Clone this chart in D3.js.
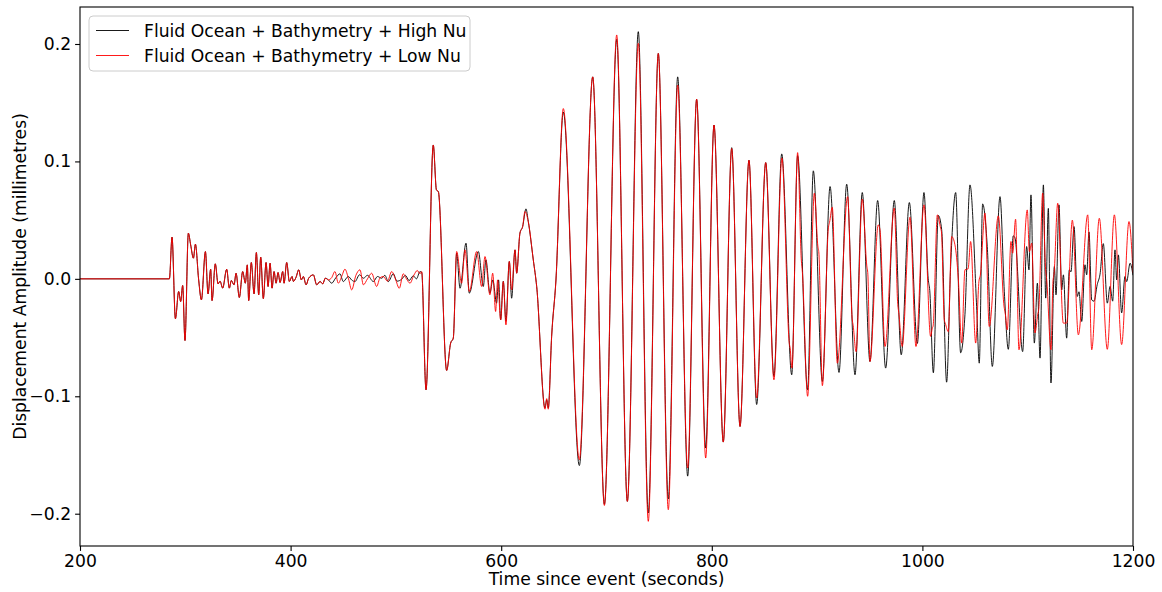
<!DOCTYPE html>
<html>
<head>
<meta charset="utf-8">
<script src="https://cdn.jsdelivr.net/npm/d3@7"></script>
<style>
  body { margin: 0; background: #fff; }
  svg { display: block; font-family: "DejaVu Sans", sans-serif; }
</style>
</head>
<body>
<div id="chart"></div>
<script>
// [time (s), displacement (mm)]
// both runs share the same onset until ~437 s
const onset = [
  [200, 0], [284.9, 0], [287.4, 0.0355], [290.6, -0.034], [293.7, -0.0108], [295.6, -0.0193],
  [297.5, -0.0057], [299.7, -0.0525], [302.9, 0.0389], [305.1, 0.0289], [307.7, 0.0176],
  [309.6, 0.0295], [312.7, -0.0009], [315.3, -0.0179], [319.1, 0.0232], [321.6, -0.0128],
  [324.1, 0.0082], [325.4, -0.0185], [328.5, 0.0128], [331.1, -0.0043], [333, -0.002],
  [335.5, -0.0079], [339.3, 0.0082], [341.8, -0.0079], [343.7, -0.0014], [346.3, -0.0051],
  [348.2, 0.0048], [351.3, -0.0159], [354.5, 0.0062], [357, -0.0037], [358.9, 0.0119],
  [360.2, -0.0185], [362.7, 0.0139], [365.3, -0.0128], [367.5, 0.0224], [369.7, -0.0136],
  [371.6, 0.0185], [374.1, -0.0168], [376.7, 0.0139], [378.6, -0.0065], [380.5, 0.0133],
  [382.4, -0.0079], [384.3, 0.0062], [386.2, -0.0037], [388.1, 0.0054], [390, -0.0031],
  [392.5, 0.0062], [393.8, -0.0037], [396.3, 0.0139], [398.8, -0.0022], [401.4, 0.002],
  [402.6, -0.0022], [405.2, 0.0014], [407.7, 0.0077], [410.2, -0.0009], [412.1, 0.002],
  [414.7, -0.0051], [417.2, 0.0006], [421.6, 0.0034], [424.8, -0.0051], [428, -0.0022],
  [430.5, -0.0043], [433, 0.0006], [435.9, -0.0009]
];

const highNuTail = [
  [439, -0.0037], [443, 0.001], [446.9, 0.0043], [450, -0.0023], [454.8, 0.002], [458, -0.001],
  [461.1, -0.0023], [465.5, 0.0035], [469.1, 0.0005], [473, 0.003], [478.6, -0.0023],
  [482.5, 0.002], [486.5, 0.0005], [489.5, 0.003], [492.8, -0.0023], [497.5, 0.0043],
  [501, -0.002], [505.5, -0.0003], [509, 0.003], [512.5, -0.0015], [516.5, 0.0026],
  [519.5, 0], [522.9, 0.0062], [524.5, 0.0055],
  [528.6, -0.0945], [535.5, 0.114], [538.5, 0.0757], [540.3, 0.0743], [548.2, -0.078],
  [552, -0.0547], [554.5, -0.0505],
  [557.7, 0.0219], [560.9, -0.008], [566.6, 0.0304], [569.7, -0.0122], [578.3, 0.0233],
  [583, -0.0065], [585.5, 0.0162], [589.3, -0.0122], [592, -0.0009], [595.6, -0.0207],
  [597.5, -0.0009], [599.5, -0.0349], [602, -0.002], [604.5, -0.036], [607.7, 0.0148],
  [609.9, -0.0165], [613.1, 0.0247], [614.7, 0.0048], [617.8, 0.0389], [620.4, 0.0446],
  [623.5, 0.0596], [625.7, 0.049], [630.5, 0.016], [633.7, -0.0065], [641.6, -0.110],
  [643.2, -0.103], [644.7, -0.110], [647.9, -0.049], [652, -0.001], [659, 0.142],
  [674.2, -0.159], [686.9, 0.172], [698, -0.192], [709.7, 0.204], [719.8, -0.1895],
  [730.2, 0.2105], [739.7, -0.1994], [749.2, 0.192], [758.7, -0.1875], [767.6, 0.172],
  [777.1, -0.168], [785.6, 0.153], [794.2, -0.144], [802.1, 0.131], [810.9, -0.139],
  [818.9, 0.1117], [826.8, -0.1257], [835.3, 0.101], [842.6, -0.107], [851.2, 0.099],
  [859, -0.083], [866.4, 0.1064], [875.9, -0.0817], [881.5, 0.105], [891, -0.0945],
  [896.4, 0.092], [905, -0.0874], [912.3, 0.0786], [920.8, -0.0797], [928.1, 0.0806],
  [936, -0.0817], [942.9, 0.0735], [950.2, -0.0704], [957.5, 0.0667], [965.1, -0.076],
  [973.3, 0.0667], [979.9, -0.0647], [987.6, 0.065], [995.2, -0.055], [1001.5, 0.0735],
  [1005.5, 0], [1007, -0.01], [1010.4, -0.080], [1015.1, 0.054], [1018.3, 0.042],
  [1023, -0.088], [1026.8, 0.0105], [1031.6, 0.0735], [1036.3, -0.063], [1040.4, -0.0306],
  [1045.2, 0.080], [1051.5, -0.0236], [1054, -0.0718], [1057.2, 0.0638], [1061.6, 0.0275],
  [1066.4, -0.0746], [1073.7, 0.070], [1077.8, -0.011], [1081.6, -0.060], [1086.3, 0.0366],
  [1087.9, 0.035], [1095.2, -0.062], [1099, 0.0275], [1101.2, 0.0077], [1103.1, 0.0715],
  [1106.3, -0.0547], [1109.2, -0.0037], [1111.7, -0.0675], [1114.9, 0.080], [1117.1, -0.0164],
  [1119.6, 0.060], [1122.1, -0.0887], [1125.3, 0.0105], [1126.9, -0.0136], [1129.7, 0.063],
  [1132.3, -0.0094], [1133.9, 0.0034], [1137, -0.0505], [1139.5, 0.0077], [1141.1, 0.006],
  [1144, 0.0445], [1147.1, -0.015], [1148.7, -0.011], [1151.3, -0.0363], [1154.4, 0.012],
  [1156, 0.0034], [1158.2, 0.040], [1160.8, -0.018], [1163, -0.019], [1166, -0.005],
  [1168.7, 0.004], [1171.8, 0.030], [1175.6, -0.0207], [1178.2, -0.0065], [1180.7, -0.019],
  [1182.9, 0.0247], [1184.5, -0.0009], [1186.1, 0.0204], [1189.2, -0.029], [1192.4, 0.002],
  [1194, -0.0023], [1197.2, 0.0133], [1200, 0.003]
];

const lowNuTail = [
  [439, 0.001], [442.1, 0.0062], [445.3, -0.0037], [448.5, 0.002], [451.6, 0.0082], [455, 0],
  [458, -0.0094], [462, 0.003], [465.9, 0.0077], [469.1, -0.0051], [473, 0], [477, 0.0048],
  [481.7, -0.0065], [485, 0.001], [488.1, 0.002], [492, -0.002], [496, 0.0062], [499.5, 0],
  [503.2, -0.008], [507, 0.0043], [510, 0], [513.4, -0.0037], [517, 0.003], [520.3, 0.0071],
  [522.9, 0.0043], [524.5, 0.0062],
  [528.6, -0.0945], [535.5, 0.114], [538.5, 0.0757], [540.3, 0.0743], [548.2, -0.078],
  [552, -0.0547], [554.5, -0.0505],
  [557.7, 0.0233], [562.4, -0.0037], [565.6, 0.0247], [569.7, -0.0108], [576.7, 0.0233],
  [581.4, -0.0065], [584.6, 0.019], [589.3, -0.0136], [591.9, 0.0048], [594.7, -0.0278],
  [596.6, -0.0009], [599.5, -0.0349], [602, -0.0023], [604.5, -0.0392], [607.7, 0.0148],
  [609.9, -0.0094], [613.1, 0.0247], [614.7, 0.0048], [617.8, 0.0389], [620.4, 0.0446],
  [622.6, 0.0573], [625.7, 0.0488], [630.5, 0.016], [633.7, -0.0065], [641.6, -0.111],
  [643.2, -0.102], [644.7, -0.111], [647.9, -0.049], [652, -0.001], [659, 0.145],
  [674.2, -0.154], [686.9, 0.172], [698, -0.193], [709.7, 0.2077], [719.8, -0.1895],
  [730.2, 0.2006], [739.7, -0.2065], [749.2, 0.192], [758.7, -0.1966], [767.6, 0.165],
  [777.1, -0.161], [785.6, 0.153], [794.2, -0.1526], [802.1, 0.131], [810.9, -0.139],
  [818.9, 0.111], [826.8, -0.1257], [835.3, 0.101], [842.6, -0.1015], [851.2, 0.099],
  [859, -0.086], [866.6, 0.103], [873.6, -0.055], [874.4, -0.059], [876.1, -0.076],
  [881.5, 0.1075], [885, 0.016], [886, 0.006], [891, -0.100], [897.4, 0.073],
  [900.7, 0.028], [901.7, 0.022], [905, -0.091], [910.8, 0.044], [911.8, 0.048],
  [914.4, 0.061], [919.2, -0.0718], [929, 0.070], [933.3, -0.034], [934.3, -0.040],
  [937, -0.062], [942.9, 0.068], [947.2, 0.011], [948.2, 0.004], [950.2, -0.0704],
  [958.1, 0.046], [959.7, 0.042], [964.5, -0.0576], [973.3, 0.0603], [976.6, -0.022],
  [977.6, -0.029], [980.8, -0.0576], [988.2, 0.0525], [993.9, -0.0576], [1001.5, 0.063],
  [1007.8, -0.049], [1009.4, -0.042], [1010.2, -0.040], [1014.2, 0.0545], [1017.3, 0.043],
  [1018.1, 0.040], [1020.8, -0.035], [1021.8, -0.038], [1024.6, -0.045], [1027.8, 0.036],
  [1030.9, 0.029], [1034.1, 0], [1037.3, -0.0547], [1040.4, 0.0077], [1043.4, 0.0085],
  [1045.8, 0.0318], [1050.6, -0.0547], [1053.7, -0.002], [1055, 0.003], [1059.4, 0.056],
  [1063.5, -0.0406], [1072.1, 0.0536], [1077.6, -0.024], [1078.6, -0.029], [1080.6, -0.0434],
  [1084.1, 0.0318], [1085.7, 0.0218], [1088.5, 0.0508], [1091.7, -0.0604], [1099.6, 0.0587],
  [1101.6, 0.0233], [1103.8, 0.0304], [1106.9, -0.046], [1109.6, -0.030], [1110.6, -0.025],
  [1114.2, 0.073], [1117, 0.008], [1118, 0], [1122.1, -0.0604], [1124, -0.002],
  [1125, 0.004], [1128.5, 0.0644], [1133.8, -0.0377], [1137, -0.0377], [1142.4, 0.050],
  [1148.1, -0.0477], [1157, 0.0545], [1160.8, -0.0604], [1168, 0.0516], [1175.6, -0.060],
  [1182.3, 0.0545], [1189.2, -0.056], [1196.2, 0.0488], [1200, 0.005]
];

const xTicks = [200, 400, 600, 800, 1000, 1200];
const yTicks = [-0.2, -0.1, 0.0, 0.1, 0.2];
const seriesNames = ['Fluid Ocean + Bathymetry + High Nu', 'Fluid Ocean + Bathymetry + Low Nu'];
const seriesColors = ['#000000', '#ff0000'];

const series = [onset.concat(highNuTail), onset.concat(lowNuTail)];

const W = 1162, H = 592;
const margin = { top: 7, right: 29, bottom: 46, left: 80 };
const width = W - margin.left - margin.right;
const height = H - margin.top - margin.bottom;
const fontSize = '17.2px';

const svg = d3.select('#chart')
  .append('svg')
  .attr('width', W)
  .attr('height', H);

svg.append('rect').attr('width', W).attr('height', H).attr('fill', '#fff');

const g = svg.append('g')
  .attr('transform', `translate(${margin.left},${margin.top})`);

const x = d3.scaleLinear().domain([200, 1200]).range([0, width]);
const y = d3.scaleLinear().domain([-0.2275, 0.2315]).range([height, 0]);

g.append('clipPath').attr('id', 'plotClip')
  .append('rect').attr('width', width).attr('height', height);

const line = d3.line()
  .x(d => x(d[0]))
  .y(d => y(d[1]))
  .curve(d3.curveMonotoneX);

g.append('g')
  .attr('clip-path', 'url(#plotClip)')
  .selectAll('path')
  .data(series)
  .enter()
  .append('path')
  .attr('d', line)
  .attr('fill', 'none')
  .attr('stroke', (d, i) => seriesColors[i])
  .attr('stroke-width', 0.9)
  .attr('stroke-linejoin', 'round');

const fmtY = d => d3.format('.1f')(d).replace('-', '\u2212');

const xAxis = g.append('g')
  .attr('transform', `translate(0,${height})`)
  .call(d3.axisBottom(x).tickValues(xTicks).tickSize(4.9).tickPadding(4).tickFormat(d3.format('d')));

const yAxis = g.append('g')
  .call(d3.axisLeft(y).tickValues(yTicks).tickSize(4.9).tickPadding(4).tickFormat(fmtY));

[xAxis, yAxis].forEach(a => {
  a.select('.domain').remove();
  a.selectAll('line').attr('stroke', '#000').attr('stroke-width', 1.1);
  a.selectAll('text')
    .style('font-family', '"DejaVu Sans", sans-serif')
    .style('font-size', fontSize)
    .attr('fill', '#000');
});

// frame
g.append('rect')
  .attr('width', width)
  .attr('height', height)
  .attr('fill', 'none')
  .attr('stroke', '#000')
  .attr('stroke-width', 1.1);

svg.append('text')
  .attr('x', margin.left + width / 2)
  .attr('y', H - 7)
  .attr('text-anchor', 'middle')
  .style('font-size', fontSize)
  .text('Time since event (seconds)');

svg.append('text')
  .attr('transform', 'rotate(-90)')
  .attr('x', -(margin.top + height / 2))
  .attr('y', 26)
  .attr('text-anchor', 'middle')
  .style('font-size', fontSize)
  .text('Displacement Amplitude (millimetres)');

// legend
const legend = svg.append('g').attr('transform', 'translate(89,16)');
legend.append('rect')
  .attr('width', 381)
  .attr('height', 55)
  .attr('rx', 4)
  .attr('fill', '#fff')
  .attr('fill-opacity', 0.8)
  .attr('stroke', '#cccccc')
  .attr('stroke-width', 1);

legend.selectAll('.legend-item')
  .data(seriesNames)
  .enter()
  .append('g')
  .attr('class', 'legend-item')
  .attr('transform', (d, i) => `translate(0, ${14.5 + i * 25})`)
  .each(function (d, i) {
    const item = d3.select(this);
    item.append('line')
      .attr('x1', 7).attr('x2', 40)
      .attr('y1', 0).attr('y2', 0)
      .attr('stroke', seriesColors[i])
      .attr('stroke-width', 0.9);
    item.append('text')
      .attr('x', 55)
      .attr('y', 6)
      .style('font-size', fontSize)
      .text(d);
  });
</script>
</body>
</html>
